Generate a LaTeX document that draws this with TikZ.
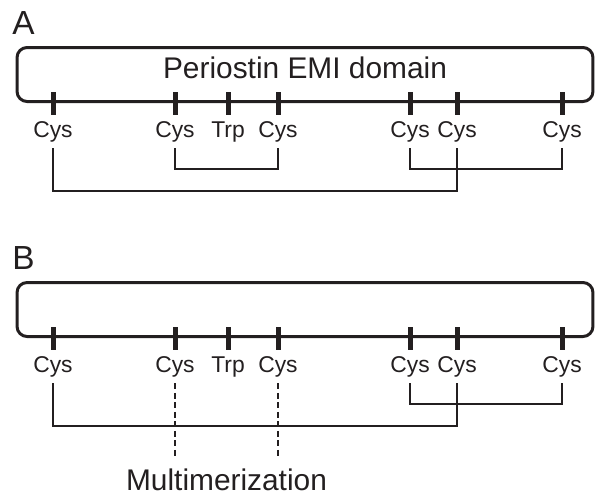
\documentclass[tikz,border=0pt]{standalone}
\usepackage{fontspec}
\setmainfont{Liberation Sans}
\usepackage{xcolor}
\definecolor{inkblack}{RGB}{35, 31, 32}
\usepackage{tikz}
\usetikzlibrary{positioning, calc}

\begin{document}
\begin{tikzpicture}[
    x=0.02cm, y=-0.02cm,
    emibox/.style={rectangle, rounded corners=0.2cm, draw=inkblack, line width=0.06cm, minimum width=11.52cm, minimum height=1.08cm, inner sep=0pt},
    resbar/.style={rectangle, fill=inkblack, minimum width=0.1cm, minimum height=0.46cm, inner sep=0pt},
    resname/.style={anchor=base, inner sep=0pt, text depth=0.22cm, text=inkblack, font=\fontsize{13}{15}\selectfont},
    bigtext/.style={anchor=base, inner sep=0pt, text=inkblack, font=\fontsize{17}{20}\selectfont},
    panel/.style={anchor=base west, inner sep=0pt, text=inkblack, font=\fontsize{19}{22}\selectfont},
    bond/.style={draw=inkblack, line width=0.04cm},
    contact/.style={draw=inkblack, line width=0.045cm, dash pattern=on 0.12cm off 0.07cm}
  ]
    \useasboundingbox (0,0) rectangle (597,495);

    % A
    \node[panel] (labA) at (12,34) {A};
    \node[emibox] (boxA) at (305,74.5) {};
    \node[bigtext] (titleA) at (305,78) {Periostin EMI domain};
    \node[resbar] (barA1) at (53,103.5) {};
    \node[resbar] (barA2) at (175,103.5) {};
    \node[resbar] (barA3) at (228,103.5) {};
    \node[resbar] (barA4) at (278,103.5) {};
    \node[resbar] (barA5) at (410,103.5) {};
    \node[resbar] (barA6) at (457,103.5) {};
    \node[resbar] (barA7) at (562,103.5) {};
    \node[resname] (cysA1) at (53,137) {Cys};
    \node[resname] (cysA2) at (175,137) {Cys};
    \node[resname] (trpA) at (228,137) {Trp};
    \node[resname] (cysA4) at (278,137) {Cys};
    \node[resname] (cysA5) at (410,137) {Cys};
    \node[resname] (cysA6) at (457,137) {Cys};
    \node[resname] (cysA7) at (562,137) {Cys};
    \draw[bond] (cysA2.south) -- ++(0,21) -| (cysA4.south);
    \draw[bond] (cysA5.south) -- ++(0,21) -| (cysA7.south);
    \draw[bond] (cysA1.south) -- ++(0,43) -| (cysA6.south);

    % B
    \node[panel] (labB) at (12,269) {B};
    \node[emibox] (boxB) at (305,309.5) {};
    \node[resbar] (barB1) at (53,338.5) {};
    \node[resbar] (barB2) at (175,338.5) {};
    \node[resbar] (barB3) at (228,338.5) {};
    \node[resbar] (barB4) at (278,338.5) {};
    \node[resbar] (barB5) at (410,338.5) {};
    \node[resbar] (barB6) at (457,338.5) {};
    \node[resbar] (barB7) at (562,338.5) {};
    \node[resname] (cysB1) at (53,372) {Cys};
    \node[resname] (cysB2) at (175,372) {Cys};
    \node[resname] (trpB) at (228,372) {Trp};
    \node[resname] (cysB4) at (278,372) {Cys};
    \node[resname] (cysB5) at (410,372) {Cys};
    \node[resname] (cysB6) at (457,372) {Cys};
    \node[resname] (cysB7) at (562,372) {Cys};
    \node[bigtext, text height=0.64cm] (multi) at (226.5,490) {Multimerization};
    \draw[bond] (cysB5.south) -- ++(0,21) -| (cysB7.south);
    \draw[bond] (cysB1.south) -- ++(0,43) -| (cysB6.south);
    \draw[contact] (cysB2.south) -- (cysB2.south |- multi.north);
    \draw[contact] (cysB4.south) -- (cysB4.south |- multi.north);
  \end{tikzpicture}
\end{document}
